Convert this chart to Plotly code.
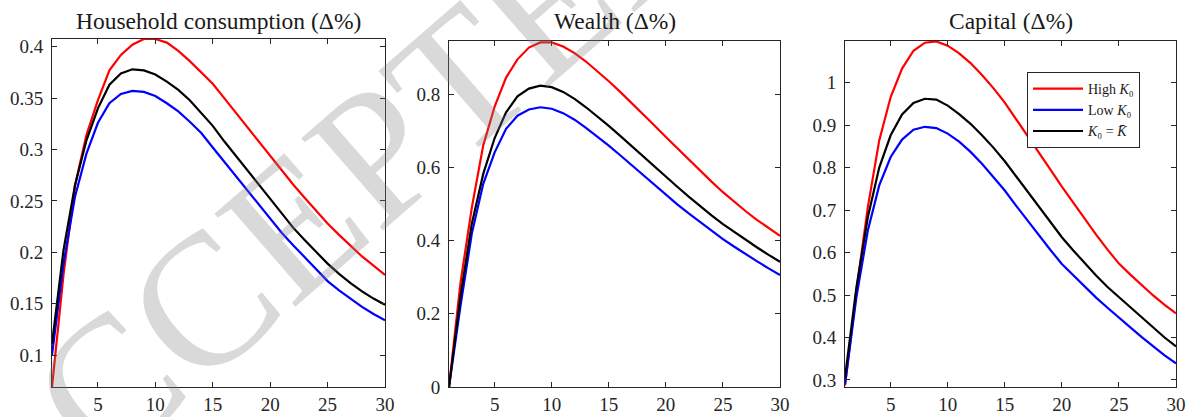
import plotly.graph_objects as go

# ---------------- data ----------------
periods = list(range(1, 31))

cons_high = [0.069, 0.178, 0.265, 0.314, 0.348, 0.377, 0.392, 0.402, 0.4075, 0.4075,
             0.404, 0.396, 0.386, 0.375, 0.364, 0.350, 0.336, 0.321, 0.307, 0.293,
             0.279, 0.266, 0.253, 0.240, 0.228, 0.217, 0.206, 0.196, 0.187, 0.178]
cons_low = [0.100, 0.189, 0.254, 0.296, 0.326, 0.345, 0.354, 0.357, 0.356, 0.352,
            0.345, 0.337, 0.327, 0.316, 0.302, 0.288, 0.274, 0.260, 0.246, 0.232,
            0.219, 0.207, 0.195, 0.184, 0.172, 0.163, 0.155, 0.147, 0.140, 0.134]
cons_ss = [0.111, 0.202, 0.265, 0.309, 0.340, 0.363, 0.374, 0.378, 0.377, 0.373,
           0.366, 0.358, 0.348, 0.336, 0.323, 0.308, 0.294, 0.280, 0.265, 0.251,
           0.237, 0.224, 0.212, 0.200, 0.189, 0.179, 0.170, 0.162, 0.155, 0.149]

wealth_high = [0.0, 0.283, 0.490, 0.660, 0.766, 0.845, 0.895, 0.927, 0.941, 0.941,
               0.930, 0.912, 0.889, 0.863, 0.835, 0.806, 0.776, 0.745, 0.714, 0.683,
               0.652, 0.621, 0.591, 0.561, 0.532, 0.505, 0.480, 0.456, 0.434, 0.413]
wealth_low = [0.0, 0.220, 0.419, 0.555, 0.641, 0.705, 0.741, 0.758, 0.764, 0.760,
              0.748, 0.730, 0.708, 0.684, 0.659, 0.633, 0.606, 0.579, 0.552, 0.525,
              0.499, 0.474, 0.450, 0.426, 0.404, 0.383, 0.362, 0.343, 0.324, 0.306]
wealth_ss = [0.0, 0.247, 0.446, 0.582, 0.680, 0.750, 0.794, 0.815, 0.823, 0.819,
             0.806, 0.787, 0.764, 0.739, 0.713, 0.686, 0.658, 0.630, 0.601, 0.574,
             0.547, 0.520, 0.494, 0.469, 0.445, 0.423, 0.401, 0.381, 0.361, 0.342]

capital_high = [0.287, 0.510, 0.707, 0.864, 0.966, 1.033, 1.075, 1.094, 1.097, 1.087,
                1.069, 1.046, 1.018, 0.987, 0.953, 0.914, 0.875, 0.836, 0.795, 0.755,
                0.717, 0.679, 0.642, 0.607, 0.574, 0.548, 0.523, 0.499, 0.477, 0.457]
capital_low = [0.290, 0.495, 0.652, 0.758, 0.825, 0.866, 0.889, 0.896, 0.893, 0.880,
               0.861, 0.837, 0.809, 0.778, 0.746, 0.710, 0.675, 0.640, 0.606, 0.573,
               0.546, 0.519, 0.494, 0.470, 0.448, 0.424, 0.401, 0.379, 0.358, 0.339]
capital_ss = [0.306, 0.518, 0.683, 0.800, 0.876, 0.925, 0.952, 0.962, 0.960, 0.946,
              0.926, 0.903, 0.876, 0.847, 0.815, 0.779, 0.743, 0.707, 0.671, 0.636,
              0.605, 0.575, 0.546, 0.519, 0.495, 0.470, 0.446, 0.422, 0.400, 0.379]

panel_titles = ["Household consumption (Δ%)", "Wealth (Δ%)", "Capital (Δ%)"]
series_names = ["High <i>K</i>\u2080", "Low <i>K</i>\u2080",
                "<i>K</i>\u2080 = <i>K\u0304</i>"]
x_ticks = [5, 10, 15, 20, 25, 30]
watermark = "ACCEPTED MANUSCRIPT"

# ---------------- figure ----------------
W, H = 1189, 417
colors = ["#ff0000", "#0000ff", "#000000"]
panels = [
    (cons_high, cons_low, cons_ss),
    (wealth_high, wealth_low, wealth_ss),
    (capital_high, capital_low, capital_ss),
]
x_px = [(52, 385), (449, 780), (845, 1176)]
y_px = [(39, 387), (41, 387), (41, 387)]
y_ranges = [[0.069, 0.4075], [0, 0.945], [0.2835, 1.098]]
y_dticks = [0.05, 0.2, 0.1]
y_tick0 = [0.1, 0, 0.3]

fig = go.Figure()
axcol = "#262626"
font_family = "Liberation Serif"

# watermark (faint)
fig.add_annotation(text=watermark, xref="paper", yref="paper",
                   x=799 / W, y=1 - (-216) / H, xanchor="center", yanchor="middle",
                   textangle=-41, showarrow=False,
                   font=dict(family=font_family, size=188, color="rgba(128,128,128,0.30)"))

for i, series in enumerate(panels):
    xa = "x" if i == 0 else f"x{i+1}"
    ya = "y" if i == 0 else f"y{i+1}"
    for j, vals in enumerate(series):
        fig.add_trace(go.Scatter(
            x=periods, y=vals, mode="lines",
            line=dict(color=colors[j], width=2.2),
            name=series_names[j], showlegend=(i == 2),
            xaxis=xa, yaxis=ya,
        ))
    xk = "xaxis" if i == 0 else f"xaxis{i+1}"
    yk = "yaxis" if i == 0 else f"yaxis{i+1}"
    common = dict(showline=True, linecolor=axcol, linewidth=1, mirror="ticks",
                  ticks="inside", ticklen=5, tickcolor=axcol, tickwidth=1,
                  showgrid=False, zeroline=False, automargin=False,
                  tickfont=dict(family=font_family, size=19, color=axcol))
    fig.layout[xk] = dict(domain=[x_px[i][0] / W, x_px[i][1] / W], range=[1, 30],
                          tickvals=x_ticks, anchor=ya, **common)
    fig.layout[yk] = dict(domain=[1 - y_px[i][1] / H, 1 - y_px[i][0] / H],
                          range=y_ranges[i], tick0=y_tick0[i], dtick=y_dticks[i],
                          anchor=xa, ticklabelstandoff=4, **common)
    fig.add_annotation(text=panel_titles[i], xref="paper", yref="paper",
                       x=(x_px[i][0] + x_px[i][1]) / 2 / W, y=1 - 21 / H,
                       xanchor="center", yanchor="middle", showarrow=False,
                       font=dict(family=font_family, size=23.5, color="#1a1a1a"))

fig.update_layout(
    width=W, height=H, margin=dict(l=0, r=0, t=0, b=0, autoexpand=False),
    paper_bgcolor="white", plot_bgcolor="white",
    font=dict(family=font_family, color=axcol),
    legend=dict(x=1027 / W, y=1 - 72 / H, xanchor="left", yanchor="top",
                bgcolor="white", bordercolor=axcol, borderwidth=1,
                font=dict(family=font_family, size=14, color="#1a1a1a"),
                itemwidth=50, tracegroupgap=0),
)

fig.write_html("out.html", config={"displayModeBar": False},
               post_script="document.body.style.margin='0';"
                           "document.body.style.overflow='hidden';")
